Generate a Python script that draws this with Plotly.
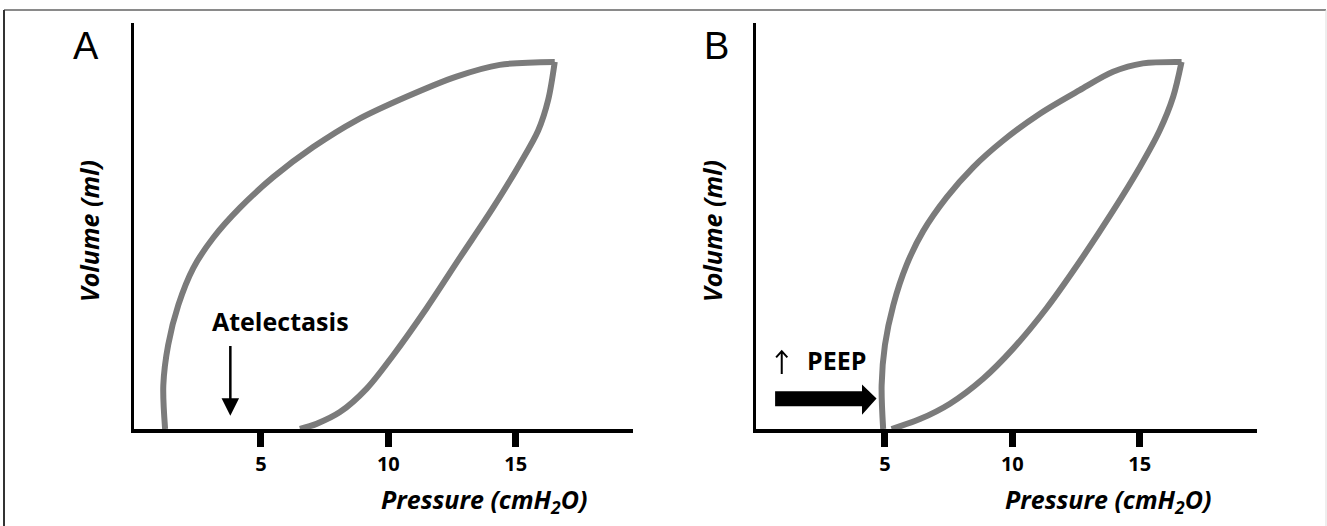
import plotly.graph_objects as go

# ---------------- data (pressure cmH2O, volume arbitrary 0-100) ----------------
a_insp_p = [1.24, 1.17, 1.36, 1.76, 2.35, 3.13, 4.18, 5.48, 7.05, 8.75, 10.71, 12.67, 14.37, 16.53]
a_insp_v = [0.0, 11.9, 22.9, 33.8, 43.9, 52.1, 60.3, 68.6, 76.8, 84.1, 90.5, 96.0, 99.2, 100.0]
a_exp_p = [16.53, 16.27, 15.88, 15.16, 14.11, 12.80, 11.50, 10.19, 9.15, 8.10, 7.18, 6.53]
a_exp_v = [100.0, 89.6, 81.3, 72.2, 60.3, 46.6, 32.9, 20.1, 11.0, 4.6, 1.4, 0.0]

b_insp_p = [4.93, 4.87, 5.00, 5.33, 5.85, 6.50, 7.42, 8.46, 9.64, 11.08, 12.64, 13.95, 15.12, 16.64]
b_insp_v = [0.0, 11.9, 22.9, 33.8, 44.7, 53.9, 63.1, 71.3, 78.6, 85.9, 92.3, 97.3, 99.6, 100.0]
b_exp_p = [16.64, 16.31, 15.78, 15.00, 13.95, 12.65, 11.34, 10.03, 8.85, 7.55, 6.37, 5.26]
b_exp_v = [100.0, 90.5, 81.3, 71.3, 59.4, 45.7, 32.9, 21.9, 13.7, 6.9, 2.7, 0.0]

tick_vals = [5, 10, 15]
tick_text = ["5", "10", "15"]
panel_labels = ["A", "B"]
x_title = "<b><i>Pressure (cmH<sub>2</sub>O)</i></b>"
y_title = "<b><i>Volume (ml)</i></b>"

# annotation anchors (data units)
atel_text_xy = (5.78, 29.5)
atel_arrow_from = (3.8, 23.0)
atel_arrow_to = (3.8, 3.6)
peep_text_xy = (3.08, 18.9)
peep_up = (0.95, 15.0, 21.2, 0.22, 1.7)  # x, ybottom, ytop, head half-width, head height
peep_shaft = (0.69, 4.10, 6.2, 10.3)   # x0, x1, y0, y1
peep_head = (4.10, 4.67, 3.9, 12.1, 8.3)  # xbase, xtip, ylow, yhigh, ytip

W, H = 1327, 526
LOOP_COLOR = "#7b7b7b"
LOOP_W = 6
FONT = "Open Sans"

fig = go.Figure()
for (ip, iv, ep, ev, xa, ya) in [
    (a_insp_p, a_insp_v, a_exp_p, a_exp_v, "x", "y"),
    (b_insp_p, b_insp_v, b_exp_p, b_exp_v, "x2", "y2"),
]:
    for px_, vy_ in [(ip, iv), (ep, ev)]:
        fig.add_trace(go.Scatter(
            x=px_, y=vy_, mode="lines", xaxis=xa, yaxis=ya,
            line=dict(color=LOOP_COLOR, width=LOOP_W, shape="spline", smoothing=0.9),
            hoverinfo="skip", showlegend=False))

ydom = [(526 - 429) / H, (526 - 23) / H]
xdomA = [133.5 / W, 633 / W]
xdomB = [756 / W, 1257 / W]

xcommon = dict(showgrid=False, zeroline=False, showline=True, linecolor="black", linewidth=4,
               ticks="outside", ticklen=14, tickwidth=7, tickcolor="black",
               tickvals=tick_vals, ticktext=tick_text,
               tickfont=dict(family=FONT, size=20, color="black", weight="bold"))
ycommon = dict(showgrid=False, zeroline=False, showline=True, linecolor="black", linewidth=3,
               showticklabels=False, ticks="", range=[0, 110.6], domain=ydom)

fig.update_layout(
    width=W, height=H, margin=dict(l=0, r=0, t=0, b=0),
    paper_bgcolor="white", plot_bgcolor="white",
    xaxis=dict(domain=xdomA, range=[0, 19.6], anchor="y", **xcommon),
    yaxis=dict(anchor="x", **ycommon),
    xaxis2=dict(domain=xdomB, range=[-0.06, 19.6], anchor="y2", **xcommon),
    yaxis2=dict(anchor="x2", **ycommon),
    showlegend=False,
)

ann = []
# panel letters
for lab, xp in zip(panel_labels, [86, 716]):
    ann.append(dict(text=lab, x=xp / W, y=1 - 46 / H, xref="paper", yref="paper",
                    showarrow=False, xanchor="center", yanchor="middle",
                    font=dict(family="Liberation Sans", size=38, color="black")))
# axis titles
for xp in [484, 1108]:
    ann.append(dict(text=x_title, x=xp / W, y=1 - 500 / H, xref="paper", yref="paper",
                    showarrow=False, xanchor="center", yanchor="middle",
                    font=dict(family=FONT, size=25, color="black")))
for xp in [89, 712]:
    ann.append(dict(text=y_title, x=xp / W, y=1 - 231 / H, xref="paper", yref="paper",
                    showarrow=False, xanchor="center", yanchor="middle", textangle=-90,
                    font=dict(family=FONT, size=25, color="black")))
# Atelectasis
ann.append(dict(text="<b>Atelectasis</b>", x=atel_text_xy[0], y=atel_text_xy[1], xref="x", yref="y",
                showarrow=False, xanchor="center", yanchor="middle",
                font=dict(family=FONT, size=25, color="black")))
ann.append(dict(x=atel_arrow_to[0], y=atel_arrow_to[1], ax=atel_arrow_from[0], ay=atel_arrow_from[1],
                xref="x", yref="y", axref="x", ayref="y", text="", showarrow=True,
                arrowhead=2, arrowsize=1.4, arrowwidth=2.5, arrowcolor="black"))
# PEEP
ann.append(dict(text="<b>PEEP</b>",
                x=peep_text_xy[0], y=peep_text_xy[1], xref="x2", yref="y2",
                showarrow=False, xanchor="center", yanchor="middle",
                font=dict(family=FONT, size=25, color="black")))
fig.update_layout(annotations=ann)

sx0, sx1, sy0, sy1 = peep_shaft
hb, ht, hl, hh, hy = peep_head
path = (f"M {sx0},{sy0} L {sx1},{sy0} L {hb},{hl} L {ht},{hy} L {hb},{hh} "
        f"L {sx1},{sy1} L {sx0},{sy1} Z")
ux, uyb, uyt, udx, udy = peep_up
up_path = (f"M {ux},{uyb} L {ux},{uyt} M {ux - udx},{uyt - udy} L {ux},{uyt} "
           f"L {ux + udx},{uyt - udy}")
shapes = [
    dict(type="path", path=path, xref="x2", yref="y2", fillcolor="black", line=dict(width=0)),
    dict(type="path", path=up_path, xref="x2", yref="y2", line=dict(color="black", width=2)),
    # frame
    dict(type="line", xref="paper", yref="paper", x0=4 / W, x1=1326 / W, y0=1 - 10 / H, y1=1 - 10 / H,
         line=dict(color="#8a8a8a", width=2)),
    dict(type="line", xref="paper", yref="paper", x0=4 / W, x1=4 / W, y0=0, y1=1 - 10 / H,
         line=dict(color="#333333", width=2)),
    dict(type="line", xref="paper", yref="paper", x0=1326 / W, x1=1326 / W, y0=0, y1=1 - 10 / H,
         line=dict(color="#dddddd", width=1)),
]
fig.update_layout(shapes=shapes)

fig.write_html("out.html", config={"displayModeBar": False},
               post_script="document.body.style.margin='0px';")
